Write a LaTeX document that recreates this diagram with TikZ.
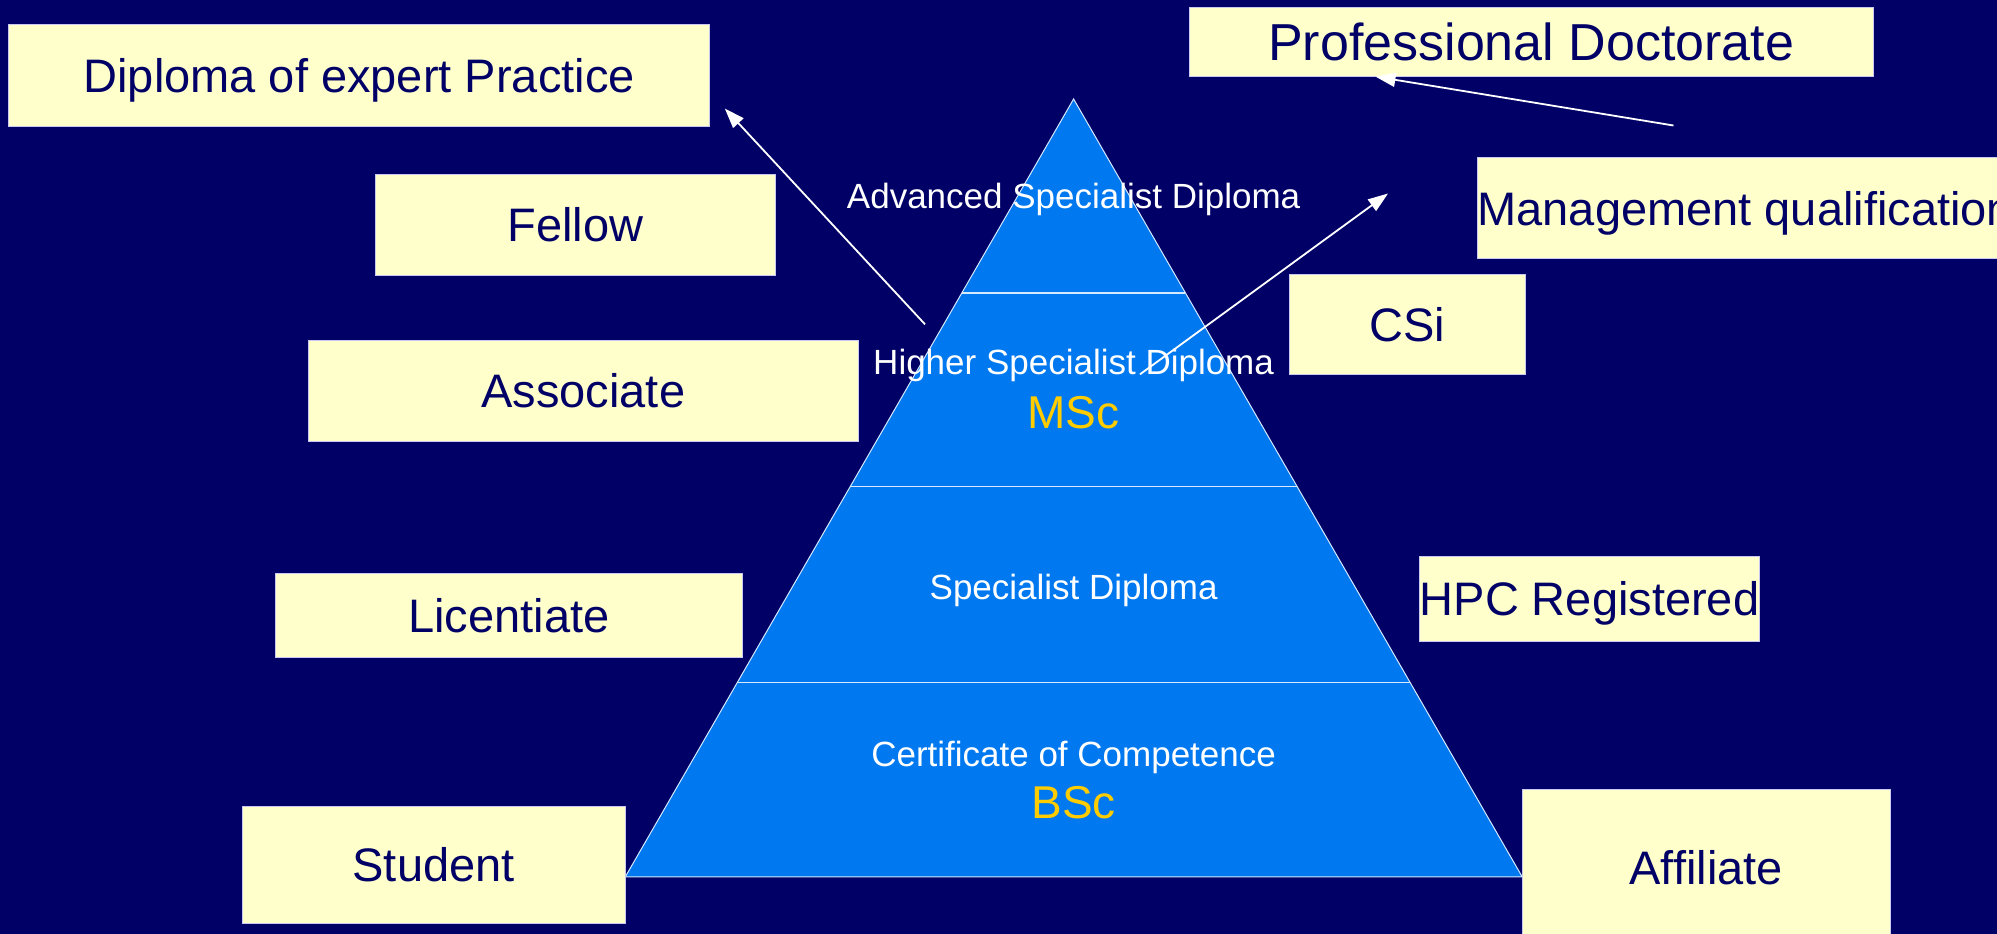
\documentclass[tikz,border=0pt]{standalone}
\usepackage{fontspec}
\setmainfont{Liberation Sans}
\usetikzlibrary{arrows.meta,calc}
\definecolor{bg}{HTML}{000066}
\definecolor{pyr}{HTML}{0078F0}
\definecolor{boxfill}{HTML}{FFFFCC}
\definecolor{boxline}{HTML}{C8C8F0}
\definecolor{gold}{HTML}{FFCC00}
\definecolor{edge}{HTML}{D6EAFF}
\begin{document}
\begin{tikzpicture}[x=1pt,y=-1pt,
  qbox/.style={draw=boxline, line width=1pt, fill=boxfill, text=bg, inner sep=0pt,
    font=\fontsize{47}{50}\selectfont, text height=33.8pt, text depth=0pt},
  ptext/.style={text=white, inner sep=0pt, font=\fontsize{35}{38}\selectfont,
    text height=25.2pt, text depth=0pt},
  degree/.style={text=gold, inner sep=0pt, font=\fontsize{46}{48}\selectfont,
    text height=33.1pt, text depth=0pt},
  layerline/.style={draw=edge, line width=1.5pt},
  link/.style={draw=white, line width=1.8pt, -{Triangle[length=20pt,width=14pt]}}]
\fill[bg] (0,0) rectangle (1997,934);
\useasboundingbox (0,0) rectangle (1997,934);
\clip (0,0) rectangle (1997,934);

% pyramid
\coordinate (apex) at (1073.6,99);
\coordinate (bl) at (625.3,876.8);
\coordinate (br) at (1522.2,876.8);
\fill[pyr] (apex) -- (bl) -- (br) -- cycle;
\draw[draw=edge, line width=1pt, line join=miter] (apex) -- (bl) -- (br) -- cycle;
\draw[layerline] ($(apex)!0.2493!(bl)$) -- ($(apex)!0.2493!(br)$);
\draw[layerline] ($(apex)!0.4982!(bl)$) -- ($(apex)!0.4982!(br)$);
\draw[layerline] ($(apex)!0.7503!(bl)$) -- ($(apex)!0.7503!(br)$);

\node[ptext] (adv) at (1073.6,196.2) {Advanced Specialist Diploma};
\node[ptext] (hsd) at (1073.6,362) {Higher Specialist Diploma};
\node[degree] (msc) at (1073.6,411.5) {MSc};
\node[ptext] (sd) at (1073.6,587.1) {Specialist Diploma};
\node[ptext] (coc) at (1073.6,753.8) {Certificate of Competence};
\node[degree] (bsc) at (1073.6,801.7) {BSc};

% boxes
\node[qbox, minimum width=700.5pt, minimum height=101.9pt] (dip) at (359.15,75.15) {Diploma of expert Practice};
\node[qbox, minimum width=400.6pt, minimum height=100.9pt] (fel) at (575.3,224.75) {Fellow};
\node[qbox, minimum width=550.2pt, minimum height=101.9pt] (ass) at (583.3,390.95) {Associate};
\node[qbox, minimum width=467.4pt, minimum height=84.1pt] (lic) at (508.8,615.15) {Licentiate};
\node[qbox, minimum width=383.3pt, minimum height=117.2pt] (stu) at (433.65,864.8) {Student};
\node[qbox, minimum width=683.6pt, minimum height=69.1pt, font=\fontsize{52}{55}\selectfont, text height=37.4pt] (pro) at (1531.2,42.05) {Professional Doctorate};
\node[qbox, minimum width=529.5pt, minimum height=100.6pt] (man) at (1745.25,208.1) {Management qualification};
\node[qbox, minimum width=235.7pt, minimum height=100.3pt] (csi) at (1407.15,324.15) {CSi};
\node[qbox, minimum width=334.4pt, minimum height=85pt] (hpc) at (1589.5,598.5) {HPC Registered};
\node[qbox, minimum width=367.7pt, minimum height=155.7pt] (aff) at (1706.15,867.15) {Affiliate};

% arrows
\coordinate (a1s) at (925,324.3);
\coordinate (a1e) at (724.8,108.5);
\coordinate (a2s) at (1140,374.3);
\coordinate (a2e) at (1388,193.5);
\coordinate (a3s) at (1673.5,125.5);
\coordinate (a3e) at (1375.5,76.6);
\draw[link] (a1s) -- (a1e);
\draw[link] (a2s) -- (a2e);
\draw[link] (a3s) -- (a3e);
\end{tikzpicture}
\end{document}
